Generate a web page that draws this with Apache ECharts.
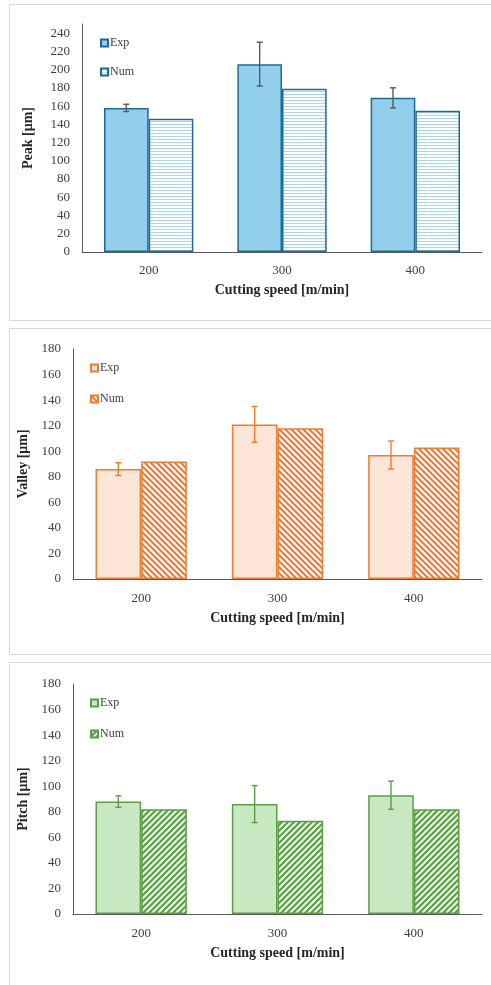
<!DOCTYPE html>
<html>
<head>
<meta charset="utf-8">
<script src="https://cdn.jsdelivr.net/npm/echarts@6/dist/echarts.min.js"></script>
<style>
  html, body { margin: 0; padding: 0; background: #fff; }
  #chart { width: 491px; height: 985px; }
</style>
</head>
<body>
<div id="chart"></div>
<script>
// values (µm)
const speeds = ['200', '300', '400']

const peakExp = [158, 206, 169]
const peakExpErr = [4, 24, 11]
const peakNum = [146, 179, 155]

const valleyExp = [86, 121, 97]
const valleyExpErr = [5, 14, 11]
const valleyNum = [92, 118, 103]

const pitchExp = [88, 86, 93]
const pitchExpErr = [4.5, 14.5, 11]
const pitchNum = [82, 73, 82]

const FONT = 'Liberation Serif'
const CAT_GAP = 0.33

function stripes(kind, line, bg) {
  const s = kind === 'h' ? 3 : 6
  const c = document.createElement('canvas')
  c.width = kind === 'h' ? 8 : s
  c.height = s
  const ctx = c.getContext('2d')
  ctx.fillStyle = bg
  ctx.fillRect(0, 0, c.width, c.height)
  ctx.strokeStyle = line
  if (kind === 'h') {
    ctx.lineWidth = 1
    ctx.beginPath()
    ctx.moveTo(0, 1.5)
    ctx.lineTo(8, 1.5)
    ctx.stroke()
    return c
  }
  ctx.lineWidth = 2.2
  ctx.beginPath()
  if (kind === 'back') {
    ctx.moveTo(0, 0); ctx.lineTo(s, s)
    ctx.moveTo(-2, s - 2); ctx.lineTo(2, s + 2)
    ctx.moveTo(s - 2, -2); ctx.lineTo(s + 2, 2)
  } else {
    ctx.moveTo(0, s); ctx.lineTo(s, 0)
    ctx.moveTo(-2, 2); ctx.lineTo(2, -2)
    ctx.moveTo(s - 2, s + 2); ctx.lineTo(s + 2, s - 2)
  }
  ctx.stroke()
  return c
}

const panels = [
  {
    key: 'peak', yName: 'Peak [μm]', exp: peakExp, err: peakExpErr, num: peakNum,
    max: 250, grid: { left: 82, top: 24, width: 400, height: 228 }, nameGap: 47,
    legend: { left: 100, top: 37 }, legendGap: 17, catMargin: 12, catNameGap: 31,
    fill: '#92cfec', border: '#1f6a94', errColor: '#595959',
    numFill: { image: stripes('h', '#a8d6ee', '#ffffff'), repeat: 'repeat' },
  },
  {
    key: 'valley', yName: 'Valley [μm]', exp: valleyExp, err: valleyExpErr, num: valleyNum,
    max: 180, grid: { left: 73, top: 349, width: 409, height: 230 }, nameGap: 39,
    legend: { left: 90, top: 362 }, legendGap: 19, catMargin: 13, catNameGap: 32,
    fill: '#fde5d8', border: '#ee7b31', errColor: '#ee7b31',
    numFill: { image: stripes('back', '#ee7b31', '#ffffff'), repeat: 'repeat' },
  },
  {
    key: 'pitch', yName: 'Pitch [μm]', exp: pitchExp, err: pitchExpErr, num: pitchNum,
    max: 180, grid: { left: 73, top: 684, width: 409, height: 230 }, nameGap: 39,
    legend: { left: 90, top: 697 }, legendGap: 19, catMargin: 13, catNameGap: 32,
    fill: '#c8e8c2', border: '#5a9e46', errColor: '#5a9e46',
    numFill: { image: stripes('fwd', '#5a9e46', '#eef7ec'), repeat: 'repeat' },
  },
]

function errorSeries(i, p) {
  return {
    type: 'custom',
    name: p.key + '-err',
    xAxisIndex: i,
    yAxisIndex: i,
    silent: true,
    z: 10,
    data: p.exp.map((v, k) => [k, v - p.err[k], v + p.err[k]]),
    renderItem(params, api) {
      const band = api.size([1, 0])[0]
      const barW = band * (1 - CAT_GAP) / 2
      const lo = api.coord([api.value(0), api.value(1)])
      const hi = api.coord([api.value(0), api.value(2)])
      const x = lo[0] - barW / 2
      const cap = 3
      const style = { stroke: p.errColor, lineWidth: 1.4 }
      return {
        type: 'group',
        children: [
          { type: 'line', shape: { x1: x, y1: lo[1], x2: x, y2: hi[1] }, style },
          { type: 'line', shape: { x1: x - cap, y1: lo[1], x2: x + cap, y2: lo[1] }, style },
          { type: 'line', shape: { x1: x - cap, y1: hi[1], x2: x + cap, y2: hi[1] }, style },
        ],
      }
    },
  }
}

const chart = echarts.init(document.getElementById('chart'), null, { renderer: 'canvas' })

const option = {
  animation: false,
  backgroundColor: '#ffffff',
  textStyle: { fontFamily: FONT },
  graphic: [
    { type: 'rect', shape: { x: 9.5, y: 4.5, width: 490, height: 316 }, style: { fill: 'none', stroke: '#d9d9d9', lineWidth: 1 } },
    { type: 'rect', shape: { x: 9.5, y: 328.5, width: 490, height: 326 }, style: { fill: 'none', stroke: '#d9d9d9', lineWidth: 1 } },
    { type: 'rect', shape: { x: 9.5, y: 662.5, width: 490, height: 340 }, style: { fill: 'none', stroke: '#d9d9d9', lineWidth: 1 } },
  ],
  grid: panels.map((p) => ({ ...p.grid, containLabel: false })),
  legend: panels.map((p) => ({
    data: [p.key + '-exp', p.key + '-num'],
    orient: 'vertical',
    left: p.legend.left,
    top: p.legend.top,
    padding: 0,
    icon: 'rect',
    itemWidth: 7,
    itemHeight: 7,
    itemGap: p.legendGap,
    selectedMode: false,
    formatter: (name) => (name.endsWith('exp') ? 'Exp' : 'Num'),
    textStyle: { fontFamily: FONT, fontSize: 12, color: '#404040', padding: [0, 0, 0, -3] },
  })),
  xAxis: panels.map((p, i) => ({
    type: 'category',
    gridIndex: i,
    data: speeds,
    name: 'Cutting speed [m/min]',
    nameLocation: 'middle',
    nameGap: p.catNameGap,
    nameTextStyle: { fontFamily: FONT, fontSize: 14, fontWeight: 'bold', color: '#262626' },
    axisLine: { lineStyle: { color: '#595959', width: 1 } },
    axisTick: { show: false },
    axisLabel: { fontFamily: FONT, fontSize: 13, color: '#404040', margin: p.catMargin },
  })),
  yAxis: panels.map((p, i) => ({
    type: 'value',
    gridIndex: i,
    min: 0,
    max: p.max,
    interval: 20,
    name: p.yName,
    nameLocation: 'middle',
    nameGap: p.nameGap,
    nameTextStyle: { fontFamily: FONT, fontSize: 14, fontWeight: 'bold', color: '#262626' },
    axisLine: { show: true, lineStyle: { color: '#595959', width: 1 } },
    axisTick: { show: false },
    splitLine: { show: false },
    axisLabel: {
      fontFamily: FONT, fontSize: 13, color: '#404040', margin: 12,
      formatter: (v) => (v % 20 === 0 ? String(v) : ''),
    },
  })),
  series: panels.flatMap((p, i) => [
    {
      type: 'bar',
      name: p.key + '-exp',
      xAxisIndex: i,
      yAxisIndex: i,
      data: p.exp,
      barGap: '0%',
      barCategoryGap: CAT_GAP * 100 + '%',
      itemStyle: { color: p.fill, borderColor: p.border, borderWidth: 1.5 },
    },
    {
      type: 'bar',
      name: p.key + '-num',
      xAxisIndex: i,
      yAxisIndex: i,
      data: p.num,
      barGap: '0%',
      barCategoryGap: CAT_GAP * 100 + '%',
      itemStyle: { color: p.numFill, borderColor: p.border, borderWidth: 1.5 },
    },
    errorSeries(i, p),
  ]),
}

chart.setOption(option)
</script>
</body>
</html>
